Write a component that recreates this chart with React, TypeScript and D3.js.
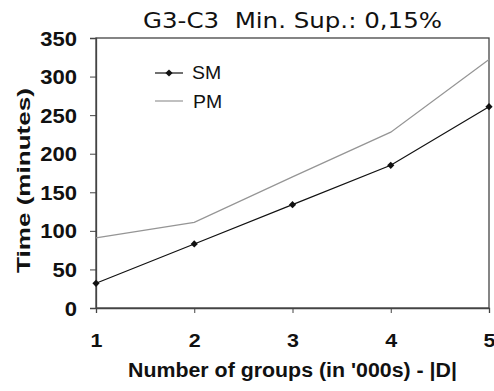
import React, {useEffect, useRef} from 'react';
import * as d3 from 'd3';

const groups = [1, 2, 3, 4, 5];
const smTimes = [32, 83, 134, 185, 261];
const pmTimes = [91, 111, 170, 228, 322];
const yTicks = [0, 50, 100, 150, 200, 250, 300, 350];

const W = 494;
const H = 391;
const FONT = 'Liberation Sans, Arial, sans-serif';

// the picture is a bit wider than tall, so stretch glyphs horizontally
function stretch(sel: d3.Selection<any, any, any, any>, k: number) {
  sel.each(function () {
    const t = this as SVGTextElement;
    t.setAttribute('textLength', String(t.getComputedTextLength() * k));
    t.setAttribute('lengthAdjust', 'spacingAndGlyphs');
  });
}

const App = () => {
  const ref = useRef<SVGSVGElement>(null);

  useEffect(() => {
    const svg = d3.select(ref.current);
    svg.selectAll('*').remove();

    const margin = {top: 38, right: 5, bottom: 83, left: 96};
    const x = d3.scaleLinear().domain([1, 5]).range([margin.left, W - margin.right]);
    const y = d3.scaleLinear().domain([0, 350]).range([H - margin.bottom, margin.top]);

    // frame
    svg
      .append('rect')
      .attr('x', margin.left)
      .attr('y', margin.top)
      .attr('width', W - margin.right - margin.left)
      .attr('height', H - margin.bottom - margin.top)
      .attr('fill', 'none')
      .attr('stroke', '#444')
      .attr('stroke-width', 1.3);

    // y axis
    const yAxis = svg
      .append('g')
      .attr('transform', `translate(${margin.left},0)`)
      .call(d3.axisLeft(y).tickValues(yTicks).tickSize(6).tickPadding(13).tickFormat(d3.format('d')));
    yAxis.select('.domain').attr('stroke', '#444').attr('stroke-width', 1.3);
    yAxis.selectAll('line').attr('stroke', '#444');
    yAxis
      .selectAll('text')
      .attr('font-family', FONT)
      .attr('font-weight', 'bold')
      .attr('font-size', 19.5)
      .attr('dy', '0.36em')
      .attr('fill', '#111');
    stretch(yAxis.selectAll('text'), 1.13);

    // x axis
    const xAxis = svg
      .append('g')
      .attr('transform', `translate(0,${H - margin.bottom})`)
      .call(d3.axisBottom(x).tickValues(groups).tickSize(5).tickPadding(0).tickFormat(d3.format('d')));
    xAxis.select('.domain').attr('stroke', '#444').attr('stroke-width', 1.3);
    xAxis.selectAll('line').attr('stroke', '#444');
    xAxis
      .selectAll('text')
      .attr('font-family', FONT)
      .attr('font-weight', 'bold')
      .attr('font-size', 19)
      .attr('y', 39)
      .attr('dy', 0)
      .attr('fill', '#111');
    stretch(xAxis.selectAll('text'), 1.13);

    const line = d3
      .line<number>()
      .x((_, i) => x(groups[i]))
      .y(d => y(d));

    // PM
    svg
      .append('path')
      .datum(pmTimes)
      .attr('d', line)
      .attr('fill', 'none')
      .attr('stroke', '#959595')
      .attr('stroke-width', 1.2);

    // SM
    svg
      .append('path')
      .datum(smTimes)
      .attr('d', line)
      .attr('fill', 'none')
      .attr('stroke', '#111')
      .attr('stroke-width', 1.2);

    const diamond = d3.symbol().type(d3.symbolSquare).size(26);
    svg
      .append('g')
      .selectAll('path')
      .data(smTimes)
      .enter()
      .append('path')
      .attr('d', diamond)
      .attr('transform', (d, i) => `translate(${x(groups[i])},${y(d)}) rotate(45)`)
      .attr('fill', '#111');

    // legend
    const legend = svg.append('g').attr('font-family', FONT).attr('font-size', 18);
    legend.append('line').attr('x1', 155).attr('x2', 183).attr('y1', 73).attr('y2', 73).attr('stroke', '#111').attr('stroke-width', 1.2);
    legend.append('path').attr('d', diamond).attr('transform', 'translate(169,73) rotate(45)').attr('fill', '#111');
    legend.append('text').attr('x', 192).attr('y', 79).attr('fill', '#111').text('SM');
    legend.append('line').attr('x1', 155).attr('x2', 183).attr('y1', 101).attr('y2', 101).attr('stroke', '#959595').attr('stroke-width', 1.2);
    legend.append('text').attr('x', 193).attr('y', 108).attr('fill', '#111').text('PM');
    stretch(legend.selectAll('text'), 1.08);

    // title
    svg
      .append('text')
      .attr('x', 143)
      .attr('y', 27.5)
      .attr('font-family', 'DejaVu Sans, sans-serif')
      .attr('font-size', 21)
      .attr('fill', '#111')
      .attr('textLength', 299)
      .attr('lengthAdjust', 'spacingAndGlyphs')
      .style('white-space', 'pre')
      .text('G3-C3  Min. Sup.: 0,15%');

    // axis labels
    svg
      .append('text')
      .attr('x', 128)
      .attr('y', 377)
      .attr('font-family', FONT)
      .attr('font-weight', 'bold')
      .attr('font-size', 19.5)
      .attr('fill', '#111')
      .attr('textLength', 329)
      .attr('lengthAdjust', 'spacingAndGlyphs')
      .text("Number of groups (in '000s) - |D|");

    svg
      .append('text')
      .attr('transform', `translate(29.5,273) rotate(-90)`)
      .attr('font-family', FONT)
      .attr('font-weight', 'bold')
      .attr('font-size', 19)
      .attr('fill', '#111')
      .attr('textLength', 185)
      .attr('lengthAdjust', 'spacingAndGlyphs')
      .text('Time (minutes)');
  }, []);

  return <svg ref={ref} width={W} height={H} style={{position: 'absolute', left: 0, top: 0, background: '#fff'}} />;
};

export default App;
